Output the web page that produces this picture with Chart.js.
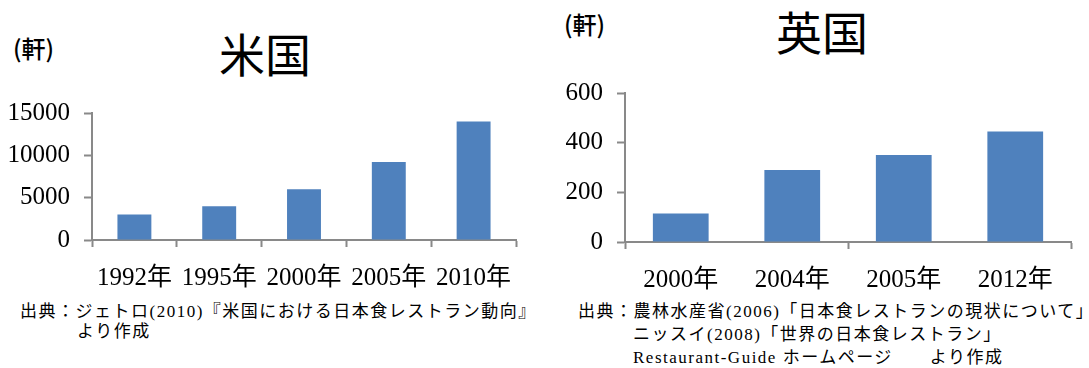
<!DOCTYPE html>
<html lang="ja">
<head>
<meta charset="utf-8">
<script src="https://cdn.jsdelivr.net/npm/chart.js@4.4.1/dist/chart.umd.min.js"></script>
<style>
  html, body { margin: 0; padding: 0; background: #fff; }
  body { width: 1089px; height: 368px; position: relative; overflow: hidden;
         font-family: "Liberation Serif", "Noto Sans CJK JP", serif; color: #000; }
  .abs { position: absolute; white-space: nowrap; line-height: 1; }
  .title { font-family: "Noto Sans CJK JP", sans-serif; font-size: 46px; transform: translate(-50%, -50%); }
  .unit { font-family: "Noto Sans CJK JP", sans-serif; font-size: 24px; font-weight: 500; transform: translateY(-50%); }
  .src { font-size: 17px; letter-spacing: 1.5px; transform: translateY(-50%); }
  canvas { position: absolute; top: 0; }
</style>
</head>
<body>
<div class="abs unit" style="left:13px; top:48px;">(軒)</div>
<div class="abs title" style="left:265px; top:52px;">米国</div>
<div class="abs unit" style="left:564px; top:24px;">(軒)</div>
<div class="abs title" style="left:822px; top:30px;">英国</div>

<div style="position:absolute; left:0; top:0; width:545px; height:300px;"><canvas id="us"></canvas></div>
<div style="position:absolute; left:545px; top:0; width:544px; height:300px;"><canvas id="uk"></canvas></div>

<div class="abs src" style="left:20px; top:311px;">出典：ジェトロ(2010)『米国における日本食レストラン動向』</div>
<div class="abs src" style="left:77px; top:331px;">より作成</div>
<div class="abs src" style="left:578px; top:311px;">出典：農林水産省(2006)「日本食レストランの現状について」</div>
<div class="abs src" style="left:633px; top:334px;">ニッスイ(2008)「世界の日本食レストラン」</div>
<div class="abs src" style="left:633px; top:357px;">Restaurant-Guide ホームページ　　より作成</div>

<script>
// Japanese restaurants in the United States (count)
const usYears = ['1992年', '1995年', '2000年', '2005年', '2010年'];
const usCounts = [3000, 4000, 6000, 9200, 14000];
const usTicks = [0, 5000, 10000, 15000];

// Japanese restaurants in the United Kingdom (count)
const ukYears = ['2000年', '2004年', '2005年', '2012年'];
const ukCounts = [115, 290, 350, 445];
const ukTicks = [0, 200, 400, 600];

const AXIS = '#898989';
const BAR = '#4f81bd';
const TICK_FONT = { family: '"Liberation Serif", "Noto Sans CJK JP", serif', size: 25 };

function makeChart(id, labels, values, yTicks, cfg) {
  const canvas = document.getElementById(id);
  return new Chart(canvas, {
    type: 'bar',
    data: {
      labels: labels,
      datasets: [{
        data: values,
        backgroundColor: BAR,
        borderWidth: 0,
        categoryPercentage: 1,
        barPercentage: cfg.barPct
      }]
    },
    options: {
      responsive: true,
      maintainAspectRatio: false,
      animation: false,
      layout: { padding: { top: cfg.top, right: cfg.right, left: 0, bottom: 0 } },
      plugins: { legend: { display: false }, tooltip: { enabled: false } },
      scales: {
        x: {
          border: { display: true, color: AXIS, width: 2 },
          grid: {
            offset: true,
            drawOnChartArea: false,
            drawTicks: true,
            tickLength: 7,
            tickWidth: 2,
            tickColor: cfg.xTickColor || AXIS
          },
          ticks: { color: '#000', font: TICK_FONT, padding: cfg.xPad, maxRotation: 0, autoSkip: false },
          afterFit: s => { s.height = cfg.xHeight; }
        },
        y: {
          min: yTicks[0],
          max: yTicks[yTicks.length - 1],
          afterBuildTicks: s => { s.ticks = yTicks.map(v => ({ value: v })); },
          border: { display: true, color: AXIS, width: 2 },
          grid: {
            drawOnChartArea: false,
            drawTicks: true,
            tickLength: 8,
            tickWidth: 2,
            tickColor: AXIS
          },
          ticks: { color: '#000', font: TICK_FONT, padding: 14, callback: v => String(v) },
          afterFit: s => { s.width = cfg.yWidth; }
        }
      }
    }
  });
}

makeChart('us', usYears, usCounts, usTicks, {
  barPct: 0.40, top: 113, right: 29, yWidth: 92, xHeight: 60, xPad: 16
});

makeChart('uk', ukYears, ukCounts, ukTicks, {
  barPct: 0.50, top: 93, right: 18, yWidth: 80, xHeight: 58, xPad: 16,
  // ticks below the category axis only at every second boundary
  xTickColor: ctx => (ctx.index === undefined || ctx.index % 2 === 0) ? AXIS : 'rgba(0,0,0,0)'
});
</script>
</body>
</html>
